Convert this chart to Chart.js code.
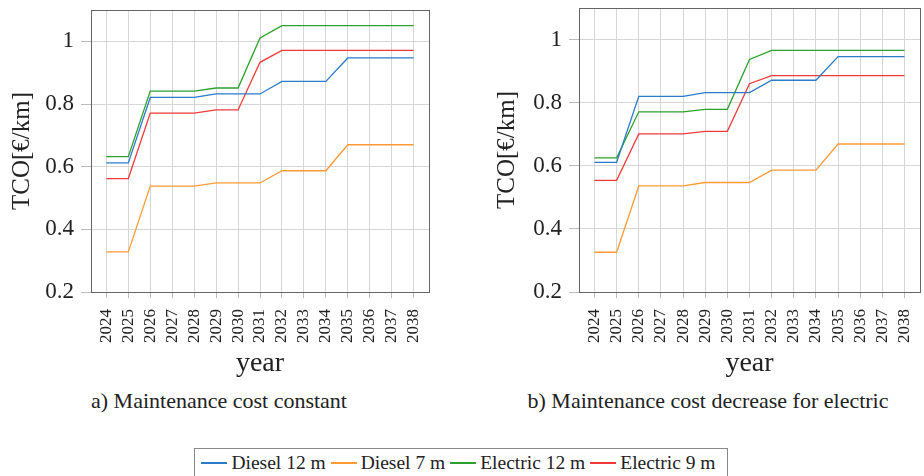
<!DOCTYPE html>
<html>
<head>
<meta charset="utf-8">
<script src="https://cdn.jsdelivr.net/npm/chart.js@4.4.1/dist/chart.umd.min.js"></script>
<style>
  body { margin: 0; width: 924px; height: 476px; background: #fff; overflow: hidden; position: relative; font-family: "Liberation Serif", serif; color: #222; }
  .panel { position: absolute; top: 0; }
  .caption { position: absolute; top: 388px; width: 420px; text-align: center; font-size: 22px; line-height: 26px; white-space: nowrap; }
  #legend { position: absolute; left: 194px; top: 448px; width: 532px; height: 34px; border: 1px solid #888; display: flex; align-items: flex-start; justify-content: center; font-size: 19.5px; line-height: 28px; white-space: nowrap; }
  .item { display: flex; align-items: center; flex-shrink: 0; }
  .swatch { display: block; width: 26px; height: 2px; margin-right: 4px; flex-shrink: 0; }
</style>
</head>
<body>
<div class="panel" style="left:0"><canvas id="chartA" width="440" height="380"></canvas></div>
<div class="panel" style="left:470px"><canvas id="chartB" width="454" height="380"></canvas></div>
<div class="caption" style="left:9px">a) Maintenance cost constant</div>
<div class="caption" style="left:498px">b) Maintenance cost decrease for electric</div>
<div id="legend"></div>
<script>
const years = [2024, 2025, 2026, 2027, 2028, 2029, 2030, 2031, 2032, 2033, 2034, 2035, 2036, 2037, 2038];
const seriesNames = ["Diesel 12 m", "Diesel 7 m", "Electric 12 m", "Electric 9 m"];
const seriesColors = ["#2b7bc9", "#ff9a35", "#2ca02c", "#f03a3a"];

// a) maintenance cost constant
const diesel12A = [0.612, 0.612, 0.821, 0.821, 0.821, 0.832, 0.832, 0.832, 0.872, 0.872, 0.872, 0.947, 0.947, 0.947, 0.947];
const diesel7A = [0.328, 0.328, 0.538, 0.538, 0.538, 0.548, 0.548, 0.548, 0.587, 0.587, 0.587, 0.670, 0.670, 0.670, 0.670];
const electric12A = [0.632, 0.632, 0.841, 0.841, 0.841, 0.851, 0.851, 1.011, 1.050, 1.050, 1.050, 1.050, 1.050, 1.050, 1.050];
const electric9A = [0.562, 0.562, 0.771, 0.771, 0.771, 0.781, 0.781, 0.933, 0.971, 0.971, 0.971, 0.971, 0.971, 0.971, 0.971];

// b) maintenance cost decrease for electric
const diesel12B = [0.611, 0.611, 0.820, 0.820, 0.820, 0.832, 0.832, 0.832, 0.871, 0.871, 0.871, 0.946, 0.946, 0.946, 0.946];
const diesel7B = [0.326, 0.326, 0.536, 0.536, 0.536, 0.547, 0.547, 0.547, 0.586, 0.586, 0.586, 0.669, 0.669, 0.669, 0.669];
const electric12B = [0.625, 0.625, 0.771, 0.771, 0.771, 0.779, 0.779, 0.937, 0.966, 0.966, 0.966, 0.966, 0.966, 0.966, 0.966];
const electric9B = [0.554, 0.554, 0.701, 0.701, 0.701, 0.709, 0.709, 0.860, 0.886, 0.886, 0.886, 0.886, 0.886, 0.886, 0.886];

const gridColor = "#d6d6d6";
const serif = "'Liberation Serif', serif";

// box round the plot area
const framePlugin = {
  id: "frame",
  afterDraw(chart) {
    const { ctx, chartArea: a } = chart;
    ctx.save();
    ctx.strokeStyle = "#666";
    ctx.lineWidth = 1;
    const l = Math.round(a.left) + 0.5, t = Math.round(a.top) + 0.5;
    ctx.strokeRect(l, t, Math.round(a.right) - Math.round(a.left), Math.round(a.bottom) - Math.round(a.top));
    ctx.restore();
  }
};

function buildDatasets(seriesList) {
  return seriesList.map((values, i) => ({
    label: seriesNames[i],
    data: years.map((yr, j) => ({ x: yr, y: values[j] })),
    borderColor: seriesColors[i],
    backgroundColor: seriesColors[i],
    borderWidth: 1.3,
    pointRadius: 0,
    tension: 0,
    fill: false
  }));
}

function makeChart(id, seriesList, yAxisWidth, titlePad, topPad, rightPad) {
  return new Chart(document.getElementById(id), {
    type: "line",
    data: { datasets: buildDatasets(seriesList) },
    options: {
      responsive: false,
      animation: false,
      layout: { padding: { top: topPad, right: rightPad, left: 0, bottom: 0 } },
      plugins: { legend: { display: false }, tooltip: { enabled: false } },
      scales: {
        x: {
          type: "linear",
          min: 2023.3,
          max: 2038.7,
          afterFit: (scale) => {
            scale.height = 88;
            scale.paddingLeft = 0;
            scale.paddingRight = 0;
          },
          border: { display: false },
          grid: { color: gridColor, tickLength: 6, tickColor: "#bbb" },
          ticks: {
            stepSize: 1,
            includeBounds: false,
            autoSkip: false,
            maxRotation: 90,
            minRotation: 90,
            padding: 11,
            color: "#222",
            font: { family: serif, size: 17 },
            callback: (v) => String(v)
          },
          title: {
            display: true,
            text: "year",
            color: "#222",
            padding: { top: 0, bottom: 0 },
            font: { family: serif, size: 28 }
          }
        },
        y: {
          min: 0.2,
          max: 1.1,
          afterFit: (scale) => {
            scale.width = yAxisWidth;
            scale.paddingTop = 0;
            scale.paddingBottom = 0;
          },
          border: { display: false },
          grid: { color: gridColor, tickLength: 10, tickColor: "#bbb" },
          ticks: {
            stepSize: 0.2,
            includeBounds: false,
            padding: 7,
            color: "#222",
            font: { family: serif, size: 23 },
            callback: (v) => String(Number(v.toFixed(1)))
          },
          title: {
            display: true,
            text: "TCO[€/km]",
            color: "#222",
            padding: { top: titlePad, bottom: 0 },
            font: { family: serif, size: 25 }
          }
        }
      }
    },
    plugins: [framePlugin]
  });
}

makeChart("chartA", [diesel12A, diesel7A, electric12A, electric9A], 91, 7, 10, 11);
makeChart("chartB", [diesel12B, diesel7B, electric12B, electric9B], 109, 22, 8, 4);

const legendEl = document.getElementById("legend");
seriesNames.forEach((name, i) => {
  const itemEl = document.createElement("span");
  itemEl.className = "item";
  const swatchEl = document.createElement("span");
  swatchEl.className = "swatch";
  swatchEl.style.background = seriesColors[i];
  const textEl = document.createElement("span");
  textEl.textContent = name;
  textEl.style.marginRight = "5px";
  itemEl.appendChild(swatchEl);
  itemEl.appendChild(textEl);
  legendEl.appendChild(itemEl);
});
</script>
</body>
</html>
